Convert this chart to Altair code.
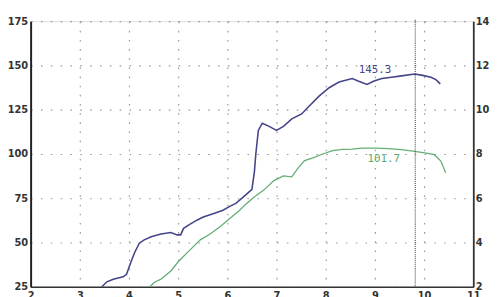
import altair as alt
import pandas as pd

# Power curve (blue)
blue_x = [3.45, 3.55, 3.68, 3.88, 3.95, 4.01, 4.11, 4.21, 4.31, 4.45, 4.65, 4.85, 4.98, 5.05,
          5.11, 5.21, 5.38, 5.51, 5.71, 5.91, 6.05, 6.18, 6.38, 6.5, 6.55, 6.58, 6.63, 6.71,
          6.85, 7.0, 7.14, 7.31, 7.51, 7.67, 7.87, 8.07, 8.27, 8.54, 8.67, 8.84, 8.97, 9.14,
          9.34, 9.54, 9.81, 9.97, 10.14, 10.24, 10.33]
blue_y = [25, 27.8, 29.3, 30.6, 32.0, 36.7, 44.1, 49.6, 51.5, 53.3, 54.8, 55.6, 54.3, 54.3,
          58.0, 59.8, 62.6, 64.4, 66.3, 68.2, 70.4, 72.2, 77.0, 80.0, 90.0, 100.4, 113.3, 117.4,
          115.6, 113.3, 115.6, 119.8, 122.6, 127.2, 132.8, 137.4, 140.6, 142.6, 141.1, 139.3,
          141.1, 142.6, 143.3, 144.1, 145.2, 144.4, 143.3, 142.0, 139.6]

# Torque curve (green)
green_x = [4.43, 4.51, 4.65, 4.85, 5.01, 5.21, 5.45, 5.65, 5.85, 6.05, 6.25, 6.38, 6.54, 6.74,
           6.94, 7.14, 7.31, 7.44, 7.57, 7.74, 7.94, 8.14, 8.34, 8.54, 8.74, 9.01, 9.27, 9.54,
           9.81, 10.01, 10.21, 10.34, 10.44]
green_y = [25, 27.4, 29.3, 33.9, 39.4, 45.0, 51.5, 54.8, 58.9, 63.5, 68.2, 71.8, 75.6, 79.6,
           84.8, 87.6, 87.1, 92.2, 96.3, 97.8, 100.0, 101.9, 102.6, 102.8, 103.3, 103.3, 103.0,
           102.4, 101.5, 100.6, 99.6, 96.0, 89.4]

x_ticks = [2, 3, 4, 5, 6, 7, 8, 9, 10, 11]
left_ticks = [25, 50, 75, 100, 125, 150, 175]
right_labels = [2, 4, 6, 8, 10, 12, 14]

cursor_x = 9.82
label_text = ["145.3", "101.7"]
label_x = [9.0, 9.18]
label_y = [147.6, 97.4]
label_color = ["#45458a", "#5fa872"]

blue_df = pd.DataFrame({"x": blue_x, "y": blue_y})
green_df = pd.DataFrame({"x": green_x, "y": green_y})
cursor_df = pd.DataFrame({"x": [cursor_x], "y": [175.8], "y2": [25]})
lab_df = pd.DataFrame({"x": label_x, "y": label_y, "t": label_text, "c": label_color})

xs = alt.Scale(domain=[2, 11], nice=False, zero=False)
ys = alt.Scale(domain=[25, 175], nice=False, zero=False)

label_font = "DejaVu Sans"

blue = alt.Chart(blue_df).mark_line(color="#45458a", strokeWidth=1.6).encode(
    x=alt.X("x:Q", scale=xs, axis=alt.Axis(
        values=x_ticks, title=None, grid=True, gridDash=[1.6, 7.7], gridColor="#999",
        gridWidth=1.2, ticks=False, domainColor="#333", domainWidth=1.5,
        labelFont=label_font, labelFontSize=10, labelFontWeight="bold", labelColor="#333",
        labelPadding=4, labelFlush=False)),
    y=alt.Y("y:Q", scale=ys, axis=alt.Axis(
        values=left_ticks, title=None, grid=True, gridDash=[1.6, 8.4], gridColor="#999",
        gridWidth=1.2, ticks=False, domainColor="#222", domainWidth=2,
        labelFont=label_font, labelFontSize=10, labelFontWeight="bold", labelColor="#333",
        labelPadding=3, labelFlush=False)),
)

green = alt.Chart(green_df).mark_line(color="#64ad76", strokeWidth=1.3).encode(
    x=alt.X("x:Q", scale=xs),
    y=alt.Y("y:Q", scale=ys, axis=alt.Axis(
        orient="right", values=left_ticks, title=None, grid=False, ticks=False,
        domainColor="#333", domainWidth=1.8,
        labelExpr="format((datum.value - 25) * 0.08 + 2, 'd')",
        labelFont=label_font, labelFontSize=10, labelFontWeight="bold", labelColor="#333",
        labelPadding=2, labelFlush=False)),
)

cursor = alt.Chart(cursor_df).mark_rule(color="#555", strokeWidth=1.2, strokeDash=[1, 1]).encode(
    x=alt.X("x:Q", scale=xs),
    y=alt.Y("y:Q", scale=alt.Scale(domain=[25, 175], nice=False, zero=False, clamp=False), axis=None),
    y2="y2:Q",
)

labels = alt.Chart(lab_df).mark_text(font="DejaVu Sans Mono", fontSize=11, align="center",
                                     baseline="middle").encode(
    x=alt.X("x:Q", scale=xs),
    y=alt.Y("y:Q", scale=ys, axis=None),
    text="t:N",
    color=alt.Color("c:N", scale=None),
)

chart = alt.layer(blue, green, cursor, labels).resolve_axis(y="independent").properties(
    width=450, height=270,
    autosize=alt.AutoSizeParams(type="none"),
    padding={"left": 23, "top": 11, "right": 17, "bottom": 8},
).configure_view(stroke=None).configure(background="white")

chart.save("out.html", embed_options={"renderer": "svg", "actions": False})
